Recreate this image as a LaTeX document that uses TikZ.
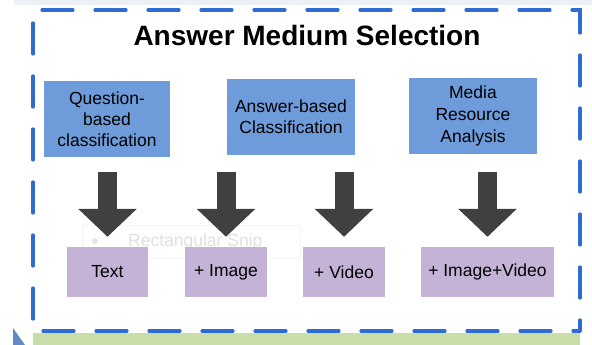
\documentclass[tikz,border=0pt]{standalone}
\usepackage{fontspec}
\setmainfont{Liberation Sans}
\usetikzlibrary{positioning, arrows.meta}
\definecolor{frameblue}{HTML}{2F6CCF}
\definecolor{boxblue}{HTML}{6E9BD9}
\definecolor{boxpurple}{HTML}{C4B3D7}
\definecolor{arrowgray}{HTML}{404040}
\definecolor{bandgreen}{HTML}{C9DDA8}
\definecolor{bandgray}{HTML}{EDF1F6}

\begin{document}
\begin{tikzpicture}[x=1pt, y=1pt,
                  every node/.style={inner sep=0pt, align=center},
                  src/.style={fill=boxblue, minimum height=76pt, font=\fontsize{17.5}{21}\selectfont},
                  med/.style={fill=boxpurple, minimum height=50pt, font=\fontsize{17.5}{21}\selectfont},
                  bigarrow/.style={draw=arrowgray, line width=19pt, -{Triangle[width=57pt, length=28pt]}, shorten >=10pt},
                  frame/.style={draw=frameblue, line width=3.2pt, line cap=round, dash pattern=on 31pt off 22pt, dash phase=20pt}]
    
    \useasboundingbox (0, 0) rectangle (592, 345); % same size as the screenshot
    \fill[white] (0, 0) rectangle (592, 345);
    \fill[bandgray] (14, 340) rectangle (592, 345);
    \fill[bandgreen] (33, 0) rectangle (580, 12);
    \fill[boxblue!90!black] (13, 17) -- (25, 0) -- (13, 0) -- cycle;
    
    % leftover of the snipping tool, very faint
    \node[draw=black!4, minimum width=218pt, minimum height=33pt] (snip) at (191, 103) {};
    \node[text=black!12, font=\fontsize{17.5}{21}\selectfont, anchor=west] (sniptxt) at (128, 103) {Rectangular Snip};
    \node[circle, fill=black!10, minimum size=6pt] (snipdot) at (95, 104) {};
    
    \draw[frame] (580, 14) -- (580, 335) -- (33, 335) -- (33, 14) -- cycle;
    
    \node[anchor=base, font=\fontsize{28}{30}\selectfont\bfseries] (title) at (307, 299) {Answer Medium Selection};
    
    \node[src, minimum width=126pt] (b1) at (107, 226) {Question-\\based\\classification};
    \node[src, minimum width=128pt] (b2) at (291, 228) {Answer-based\\Classification};
    \node[src, minimum width=128pt, font=\fontsize{17.5}{22}\selectfont] (b3) at (473, 229) {Media\\Resource\\Analysis};
    
    \node[med, minimum width=81pt]  (p1) at (107.5, 73) {Text};
    \node[med, minimum width=82pt]  (p2) at (226, 73)   {+ Image};
    \node[med, minimum width=82pt]  (p3) at (344, 73)   {+ Video};
    \node[med, minimum width=133pt] (p4) at (487.5, 73) {+ Image+Video};
    
    \foreach \p in {p1, p2, p3, p4}
        \draw[bigarrow] ([yshift=75pt]\p.north) -- (\p.north);
    
\end{tikzpicture}
\end{document}
